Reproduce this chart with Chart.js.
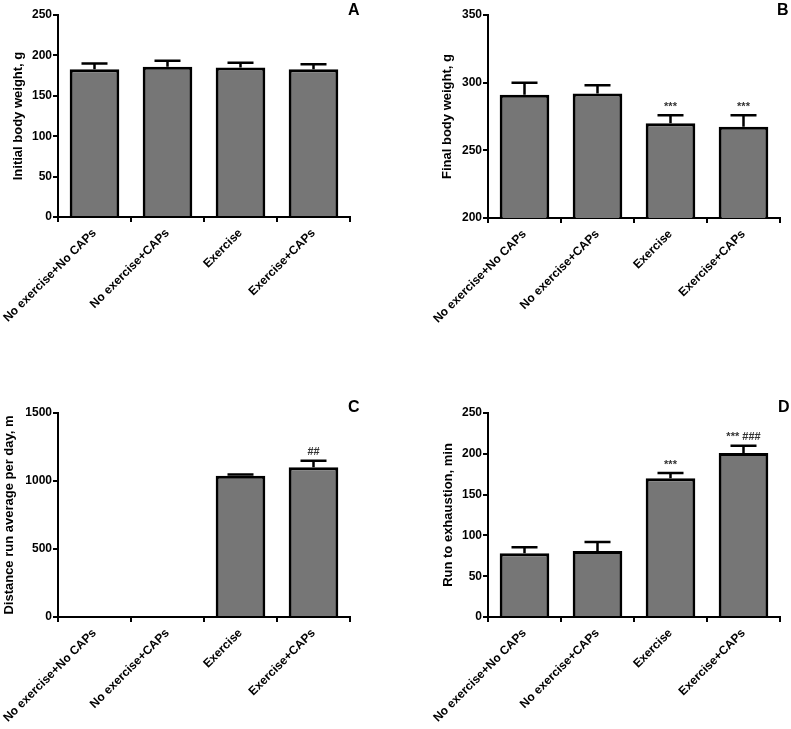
<!DOCTYPE html>
<html>
<head>
<meta charset="utf-8">
<script src="https://cdn.jsdelivr.net/npm/chart.js@4"></script>
<style>
  body { margin: 0; background: #fff; }
  canvas { position: absolute; }
</style>
</head>
<body>
<canvas id="chartA" width="400" height="360" style="left:0;top:0"></canvas>
<canvas id="chartB" width="391" height="360" style="left:400px;top:0"></canvas>
<canvas id="chartC" width="400" height="369" style="left:0;top:360px"></canvas>
<canvas id="chartD" width="391" height="369" style="left:400px;top:360px"></canvas>
<script>
// groups on the x axis
const groups = ['No exercise+No CAPs', 'No exercise+CAPs', 'Exercise', 'Exercise+CAPs'];

// A - initial body weight (mean, SEM)
const initialWeight = [183, 186, 185, 183];
const initialWeightSem = [7, 7.5, 6, 6];
const initialTicks = [0, 250, 50];

// B - final body weight
const finalWeight = [291, 292, 270, 267.5];
const finalWeightSem = [9, 6, 6, 8.5];
const finalMarks = ['', '', '***', '***'];
const finalTicks = [200, 350, 50];

// C - distance run per day (no data for sedentary groups)
const distance = [null, null, 1038, 1102];
const distanceSem = [null, null, 10, 46];
const distanceMarks = ['', '', '', '##'];
const distanceTicks = [0, 1500, 500];

// D - run to exhaustion
const runTime = [78, 81, 170, 201];
const runTimeSem = [7.5, 11, 6.5, 9];
const runTimeMarks = ['', '', '***', '*** ###'];
const runTimeTicks = [0, 250, 50];

const FONT = 'Liberation Sans, Arial, sans-serif';
Chart.defaults.font.family = FONT;
Chart.defaults.color = '#000';

// draws the upper error bar, significance marks and the panel letter
const errorBarPlugin = {
    id: 'errbars',
    afterDatasetsDraw(chart, args, opts) {
        const ctx = chart.ctx;
        const meta = chart.getDatasetMeta(0);
        const y = chart.scales.y;
        const values = chart.data.datasets[0].data;
        ctx.save();
        meta.data.forEach((bar, i) => {
            if (values[i] == null) return;
            const top = y.getPixelForValue(values[i] + (opts.sem[i] || 0));
            const base = y.getPixelForValue(values[i]);
            ctx.strokeStyle = '#000';
            ctx.lineWidth = 2.5;
            ctx.beginPath();
            ctx.moveTo(bar.x, base);
            ctx.lineTo(bar.x, top);
            ctx.moveTo(bar.x - 13, top);
            ctx.lineTo(bar.x + 13, top);
            ctx.stroke();
            const mark = opts.marks ? opts.marks[i] : '';
            if (mark) {
                ctx.fillStyle = '#333';
                ctx.font = 'bold 11px ' + FONT;
                ctx.textAlign = 'center';
                ctx.textBaseline = 'bottom';
                ctx.fillText(mark, bar.x, top - 3);
            }
        });
        ctx.fillStyle = '#000';
        ctx.font = 'bold 16px ' + FONT;
        ctx.textAlign = 'left';
        ctx.textBaseline = 'top';
        ctx.fillText(opts.letter, opts.letterX, opts.letterY);
        ctx.restore();
    }
};

function makeChart(id, values, sem, marks, ticks, title, box) {
    const canvas = document.getElementById(id);
    const W = canvas.width, H = canvas.height;
    return new Chart(canvas, {
        type: 'bar',
        data: {
            labels: groups,
            datasets: [{
                data: values,
                backgroundColor: '#767676',
                borderColor: '#000',
                borderWidth: 3,
                barPercentage: 0.68,
                categoryPercentage: 1
            }]
        },
        options: {
            responsive: false,
            animation: false,
            layout: { padding: { top: box.top, right: W - box.right, left: 0, bottom: 0 } },
            plugins: {
                legend: { display: false },
                tooltip: { enabled: false },
                errbars: { sem: sem, marks: marks, letter: box.letter, letterX: box.lx, letterY: box.ly }
            },
            scales: {
                x: {
                    grid: { drawOnChartArea: false, color: '#000', lineWidth: 2, tickLength: 5 },
                    border: { color: '#000', width: 2 },
                    ticks: {
                        font: { size: 12, weight: 'bold' },
                        maxRotation: 45, minRotation: 45, padding: 4, autoSkip: false
                    },
                    afterFit(s) {
                        s.height = H - box.bottom;
                        s.paddingLeft = 0; s.paddingRight = 0;
                    }
                },
                y: {
                    min: ticks[0], max: ticks[1],
                    grid: { drawOnChartArea: false, color: '#000', lineWidth: 2, tickLength: 5 },
                    border: { color: '#000', width: 2 },
                    ticks: {
                        stepSize: ticks[2], font: { size: 12, weight: 'bold' }, padding: 1,
                        callback: v => String(v)
                    },
                    title: {
                        display: true, text: title,
                        font: { size: 13, weight: 'bold' },
                        padding: { top: box.titlePad, bottom: 0 }
                    },
                    afterFit(s) {
                        s.width = box.left;
                        s.paddingTop = 0; s.paddingBottom = 0;
                    }
                }
            }
        },
        plugins: [errorBarPlugin]
    });
}

makeChart('chartA', initialWeight, initialWeightSem, null, initialTicks, 'Initial body weight, g',
    { left: 58, right: 350, top: 15, bottom: 217, titlePad: 11, letter: 'A', lx: 348, ly: 3 });
makeChart('chartB', finalWeight, finalWeightSem, finalMarks, finalTicks, 'Final body weight, g',
    { left: 88, right: 380, top: 15, bottom: 218, titlePad: 40, letter: 'B', lx: 377, ly: 3 });
makeChart('chartC', distance, distanceSem, distanceMarks, distanceTicks, 'Distance run average per day, m',
    { left: 58, right: 350, top: 53, bottom: 257, titlePad: 2, letter: 'C', lx: 348, ly: 40 });
makeChart('chartD', runTime, runTimeSem, runTimeMarks, runTimeTicks, 'Run to exhaustion, min',
    { left: 88, right: 380, top: 53, bottom: 257, titlePad: 41, letter: 'D', lx: 378, ly: 40 });
</script>
</body>
</html>
